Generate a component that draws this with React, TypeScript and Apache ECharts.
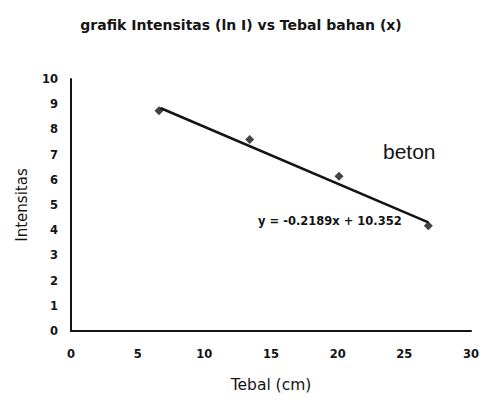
import React, { useEffect, useRef } from "react";
import * as echarts from "echarts";

const titleText = "grafik Intensitas (ln I) vs Tebal bahan (x)";
const xName = "Tebal (cm)";
const yName = "Intensitas";
const seriesName = "beton";
const equationText = "y = -0.2189x + 10.352";

// measured points (Tebal, ln I)
const tebal = [6.6, 13.4, 20.1, 26.8];
const intensitas = [8.74, 7.6, 6.14, 4.18];

// trend line end points
const trendX = [6.7, 26.8];
const trendY = [8.85, 4.31];

const xTicks = { min: 0, max: 30, interval: 5 };
const yTicks = { min: 0, max: 10, interval: 1 };

const FONT = "'DejaVu Sans', 'Liberation Sans', sans-serif";
const INK = "#141414";

export default function App() {
  const ref = useRef<HTMLDivElement>(null);
  useEffect(() => {
    if (!ref.current) return;
    const chart = echarts.init(ref.current, undefined, { renderer: "svg" });
    chart.setOption({
      animation: false,
      backgroundColor: "#ffffff",
      title: {
        text: titleText,
        left: "center",
        top: 13,
        textStyle: { fontFamily: FONT, fontSize: 14, fontWeight: "bold", color: INK },
      },
      grid: { left: 71, right: 6, top: 79, bottom: 72, containLabel: false },
      xAxis: {
        type: "value",
        min: xTicks.min,
        max: xTicks.max,
        interval: xTicks.interval,
        name: xName,
        nameLocation: "middle",
        nameGap: 46,
        nameMoveOverlap: false,
        nameTextStyle: { fontFamily: FONT, fontSize: 15.5, color: INK },
        axisLine: { lineStyle: { color: INK, width: 2 } },
        axisTick: { show: false },
        splitLine: { show: false },
        axisLabel: { margin: 17, fontFamily: FONT, fontSize: 11.5, fontWeight: "bold", color: INK },
      },
      yAxis: {
        type: "value",
        min: yTicks.min,
        max: yTicks.max,
        interval: yTicks.interval,
        name: yName,
        nameLocation: "middle",
        nameGap: 42,
        nameMoveOverlap: false,
        nameTextStyle: { fontFamily: FONT, fontSize: 15, color: INK },
        axisLine: { show: true, lineStyle: { color: INK, width: 2 } },
        axisTick: { show: false },
        splitLine: { show: false },
        axisLabel: { margin: 13, fontFamily: FONT, fontSize: 11.5, fontWeight: "bold", color: INK },
      },
      series: [
        {
          name: seriesName + " trend",
          type: "line",
          data: trendX.map((x, i) => [x, trendY[i]]),
          showSymbol: false,
          symbol: "none",
          lineStyle: { color: INK, width: 2.5 },
          z: 2,
        },
        {
          name: seriesName,
          type: "scatter",
          data: tebal.map((x, i) => [x, intensitas[i]]),
          symbol: "diamond",
          symbolSize: 9,
          itemStyle: { color: INK },
          z: 3,
        },
      ],
      graphic: [
        {
          type: "text",
          left: 383,
          top: 141,
          style: { text: seriesName, fontFamily: "'Liberation Sans', Arial, sans-serif", fontSize: 21, fill: INK },
        },
        {
          type: "text",
          left: 258,
          top: 215,
          style: { text: equationText, fontFamily: FONT, fontSize: 11.5, fontWeight: "bold", fill: INK },
        },
      ],
    });
    return () => chart.dispose();
  }, []);
  return (
    <div
      ref={ref}
      style={{ position: "fixed", left: 0, top: 0, width: 482, height: 403, background: "#fff" }}
    />
  );
}
